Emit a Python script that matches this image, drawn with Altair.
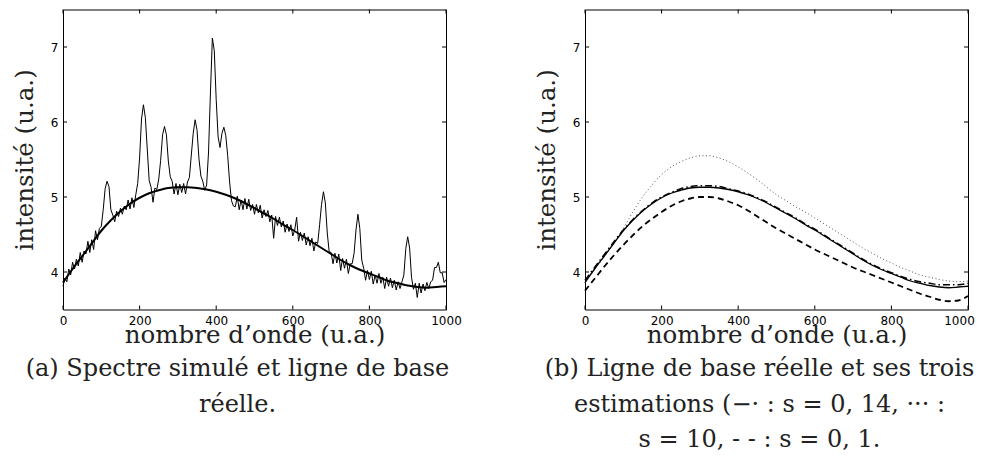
import altair as alt
import pandas as pd

# ---------------- data ----------------
X_TICKS = [0, 200, 400, 600, 800, 1000]
Y_TICKS = [4, 5, 6, 7]

# simulated spectrum, sampled every 5 units of wavenumber (0 .. 1000)
SPEC_X = list(range(0, 1001, 5))
SPEC_Y = [
    3.81, 3.92, 3.87, 4.04, 3.96, 4.13, 4.04, 4.17, 4.08, 4.26,
    4.13, 4.28, 4.24, 4.41, 4.26, 4.43, 4.30, 4.55, 4.43, 4.58,
    4.61, 4.83, 5.11, 5.21, 5.14, 4.83, 4.76, 4.67, 4.81, 4.74,
    4.85, 4.77, 4.88, 4.83, 4.96, 4.84, 4.99, 4.86, 5.03, 5.18,
    5.52, 6.04, 6.23, 6.06, 5.64, 5.22, 5.13, 4.93, 5.12, 5.10,
    5.24, 5.49, 5.83, 5.94, 5.83, 5.48, 5.27, 5.21, 5.04, 5.18,
    5.03, 5.17, 5.06, 5.18, 5.04, 5.20, 5.26, 5.56, 5.85, 6.03,
    5.89, 5.51, 5.28, 5.21, 5.09, 5.16, 5.60, 6.40, 7.12, 6.95,
    6.30, 5.80, 5.66, 5.85, 5.93, 5.82, 5.55, 5.20, 4.95, 4.88,
    4.87, 5.01, 4.83, 4.96, 4.83, 4.98, 4.84, 4.97, 4.82, 4.90,
    4.77, 4.90, 4.79, 4.89, 4.72, 4.83, 4.74, 4.82, 4.67, 4.76,
    4.45, 4.74, 4.62, 4.73, 4.60, 4.68, 4.53, 4.64, 4.54, 4.63,
    4.48, 4.56, 4.73, 4.41, 4.53, 4.42, 4.52, 4.36, 4.47, 4.35,
    4.45, 4.28, 4.40, 4.38, 4.63, 4.90, 5.07, 4.92, 4.52, 4.27,
    4.26, 4.11, 4.25, 4.12, 4.24, 4.02, 4.18, 4.05, 4.17, 3.98,
    4.11, 4.11, 4.25, 4.56, 4.77, 4.58, 4.16, 4.05, 3.89, 4.02,
    3.90, 4.01, 3.84, 3.96, 3.85, 3.98, 3.85, 3.93, 3.78, 3.93,
    3.81, 3.92, 3.79, 3.89, 3.76, 3.87, 3.78, 3.87, 3.96, 4.31,
    4.47, 4.32, 3.93, 3.77, 3.85, 3.66, 3.85, 3.72, 3.84, 3.75,
    3.86, 3.78, 3.87, 3.89, 4.06, 4.06, 4.13, 3.99, 3.99, 3.86,
    3.90,
]

# baselines, sampled every 25 units
BASE_X = list(range(0, 1001, 25))
BASE_TRUE = [
    3.86, 4.04, 4.21, 4.38, 4.55, 4.69, 4.81, 4.91, 4.99, 5.05,
    5.09, 5.12, 5.13, 5.13, 5.12, 5.10, 5.07, 5.03, 4.98, 4.92,
    4.85, 4.78, 4.71, 4.63, 4.56, 4.48, 4.40, 4.32, 4.24, 4.16,
    4.09, 4.03, 3.98, 3.93, 3.88, 3.85, 3.82, 3.80, 3.79, 3.80,
    3.81,
]
EST_S014 = [
    3.89, 4.06, 4.23, 4.40, 4.56, 4.70, 4.82, 4.92, 5.00, 5.06,
    5.11, 5.14, 5.15, 5.15, 5.14, 5.11, 5.08, 5.04, 4.99, 4.93,
    4.86, 4.79, 4.72, 4.64, 4.57, 4.49, 4.41, 4.33, 4.25, 4.17,
    4.10, 4.04, 3.99, 3.94, 3.90, 3.87, 3.85, 3.83, 3.83, 3.83,
    3.85,
]
EST_S10 = [
    3.86, 4.03, 4.20, 4.38, 4.58, 4.80, 5.00, 5.16, 5.30, 5.40,
    5.47, 5.52, 5.55, 5.55, 5.52, 5.47, 5.40, 5.32, 5.23, 5.13,
    5.03, 4.95, 4.87, 4.80, 4.72, 4.64, 4.56, 4.48, 4.40, 4.32,
    4.25, 4.18, 4.12, 4.06, 4.01, 3.96, 3.93, 3.90, 3.88, 3.87,
    3.88,
]
EST_S01 = [
    3.75, 3.91, 4.07, 4.22, 4.36, 4.49, 4.61, 4.71, 4.80, 4.88,
    4.94, 4.98, 5.00, 5.00, 4.98, 4.94, 4.89, 4.82, 4.74, 4.66,
    4.58, 4.51, 4.44, 4.37, 4.30, 4.24, 4.18, 4.12, 4.06, 4.01,
    3.96, 3.91, 3.86, 3.81, 3.76, 3.71, 3.67, 3.63, 3.61, 3.62,
    3.68,
]

X_TITLE = "nombre d\u2019onde (u.a.)"
Y_TITLE = "intensité (u.a.)"
CAPTION_A = ["(a) Spectre simulé et ligne de base", "réelle."]
CAPTION_B = ["(b) Ligne de base réelle et ses trois",
             "estimations (\u2212\u00b7 : s = 0, 14, \u00b7\u00b7\u00b7 :",
             "s = 10, - - : s = 0, 1."]

# ---------------- styling ----------------
SERIF = "DejaVu Serif"
SANS = "DejaVu Sans"
W, H = 383, 300
TICK = 4
TXT = "#222222"

xs = alt.Scale(domain=[0, 1000], nice=False, zero=False)
ys = alt.Scale(domain=[3.5, 7.5], nice=False, zero=False)


def x_axis(shift_last=False):
    offset = 0
    if shift_last:
        offset = {"condition": {"test": "datum.value == 1000", "value": -9}, "value": 0}
    return alt.Axis(values=X_TICKS, format="d", title=X_TITLE,
                    labelFont=SANS, labelFontSize=12, labelColor="black",
                    labelPadding=6, labelFlush=False, labelOverlap=False,
                    labelOffset=offset,
                    ticks=False, domain=False, grid=False,
                    titleFont=SERIF, titleFontSize=24.5, titleFontWeight="normal",
                    titleColor=TXT, titleBaseline="alphabetic", titleY=33)


def y_axis():
    return alt.Axis(values=Y_TICKS, format="d", title=Y_TITLE,
                    labelFont=SANS, labelFontSize=12, labelColor="black",
                    labelPadding=5, labelOverlap=False,
                    ticks=False, domain=False, grid=False,
                    titleFont=SERIF, titleFontSize=24.5, titleFontWeight="normal",
                    titleColor=TXT, titleBaseline="alphabetic",
                    titleX=-31, titleY=H / 2)


def inward_ticks(shift_last=False):
    xt = pd.DataFrame({"x": X_TICKS})
    yt = pd.DataFrame({"yv": Y_TICKS})
    rule = dict(color="black", strokeWidth=1)
    xa = x_axis(shift_last)
    bottom = alt.Chart(xt).mark_rule(**rule).encode(
        x=alt.X("x:Q", scale=xs, axis=xa), y=alt.value(H), y2=alt.value(H - TICK))
    top = alt.Chart(xt).mark_rule(**rule).encode(
        x=alt.X("x:Q", scale=xs, axis=xa), y=alt.value(0), y2=alt.value(TICK))
    left = alt.Chart(yt).mark_rule(**rule).encode(
        y=alt.Y("yv:Q", scale=ys, axis=y_axis()), x=alt.value(0), x2=alt.value(TICK))
    right = alt.Chart(yt).mark_rule(**rule).encode(
        y=alt.Y("yv:Q", scale=ys, axis=y_axis()), x=alt.value(W), x2=alt.value(W - TICK))
    return [bottom, top, left, right]


def caption(lines):
    return alt.TitleParams(text=lines, orient="bottom", anchor="middle", frame="group",
                           dx=-17, offset=10, font=SERIF, fontSize=24,
                           fontWeight="normal", color=TXT, lineHeight=35.5)


# ---------------- panel (a) ----------------
spec_df = pd.DataFrame({"x": SPEC_X, "y": SPEC_Y})
base_df = pd.DataFrame({"x": BASE_X, "y": BASE_TRUE})

spec = alt.Chart(spec_df).mark_line(color="black", strokeWidth=1).encode(
    x=alt.X("x:Q", scale=xs, axis=x_axis()),
    y=alt.Y("y:Q", scale=ys, axis=y_axis()))
base = alt.Chart(base_df).mark_line(color="black", strokeWidth=2, interpolate="monotone").encode(
    x=alt.X("x:Q", scale=xs, axis=x_axis()), y=alt.Y("y:Q", scale=ys, axis=y_axis()))

panel_a = alt.layer(spec, base, *inward_ticks()).properties(
    width=W, height=H, title=caption(CAPTION_A))

# ---------------- panel (b) ----------------
est_df = pd.DataFrame({"x": BASE_X, "true": BASE_TRUE, "s014": EST_S014,
                       "s10": EST_S10, "s01": EST_S01})


def curve(col, **style):
    return alt.Chart(est_df).mark_line(interpolate="monotone", **style).encode(
        x=alt.X("x:Q", scale=xs, axis=x_axis(True)),
        y=alt.Y(f"{col}:Q", scale=ys, axis=y_axis()))


dotted = curve("s10", color="#555555", strokeWidth=1, strokeDash=[1, 2.5])
solid = curve("true", color="black", strokeWidth=1.3)
dashdot = curve("s014", color="black", strokeWidth=1.5, strokeDash=[7, 3, 1.5, 3])
dashed = curve("s01", color="black", strokeWidth=1.8, strokeDash=[6, 4])

panel_b = alt.layer(dotted, solid, dashdot, dashed, *inward_ticks(True)).properties(
    width=W, height=H, title=caption(CAPTION_B))

chart = alt.hconcat(panel_a, panel_b, spacing=139, bounds="flush").properties(
    padding={"left": 3, "top": 0.5, "right": 0, "bottom": -1}
).configure_view(stroke="black", strokeWidth=1)

chart.save("out.html", embed_options={"renderer": "svg", "actions": False})
